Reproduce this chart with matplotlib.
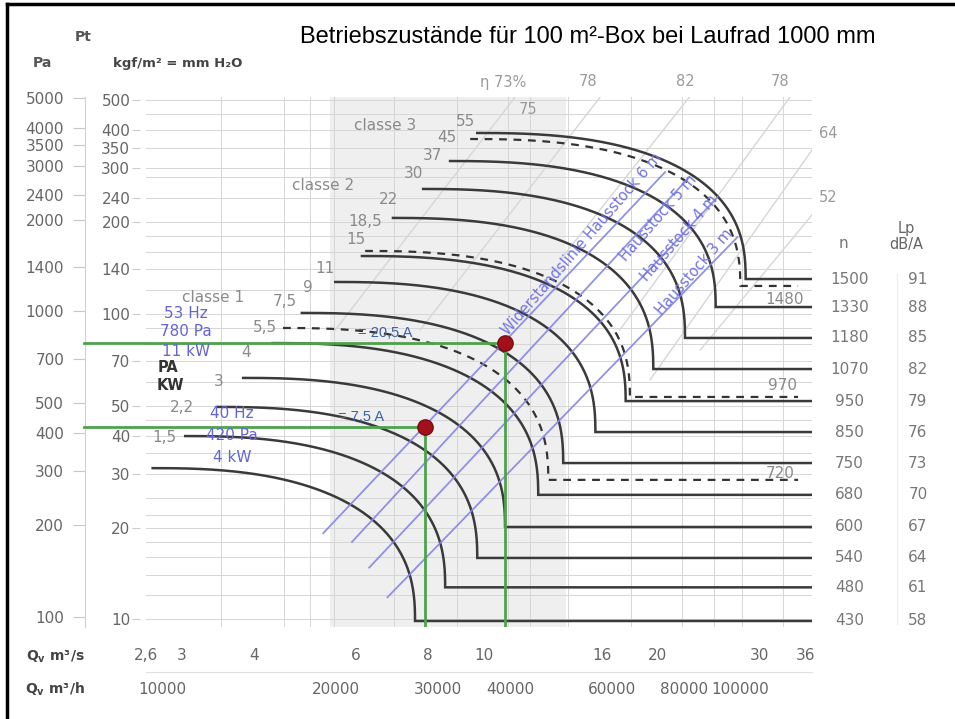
import numpy as np
import matplotlib
matplotlib.use("Agg")
import matplotlib.pyplot as plt
from matplotlib.ticker import FixedLocator, NullFormatter, NullLocator
from matplotlib.lines import Line2D
from matplotlib import transforms

# ---------------- data ----------------
# fan curves (solid): start point (left end) and corner / horizontal level
rpm = [430, 480, 540, 600, 680, 750, 850, 950, 1070, 1180, 1330, 1500]
lp_dba = [58, 61, 64, 67, 70, 73, 76, 79, 82, 85, 88, 91]
curve_q_start = [2.67, 3.04, 3.45, 3.83, 4.31, 4.84, 5.53, 6.15, 6.96, 7.85, 8.74, 9.74]
curve_p_start = [307, 391, 487, 606, 788, 989, 1249, 1519, 2024, 2518, 3108, 3840]
curve_q_end = [7.60, 8.57, 9.74, 10.88, 12.42, 13.72, 15.6, 17.6, 19.65, 22.3, 25.2, 28.4]
curve_p_level = [97, 125, 156, 197, 251, 319, 403, 509, 648, 819, 1034, 1277]

# dashed fan curves
rpm_dashed = [720, 970, 1480]
dash_q_start = [4.49, 6.23, 9.47]
dash_p_start = [883, 1578, 3669]
dash_q_end = [12.93, 17.9, 27.8]
dash_p_level = [281, 525, 1212]

# system (resistance) lines
sys_labels = ["Widerstandslinie Hausstock 6 m", "Hausstock 5 m", "Hausstock 4 m", "Hausstock 3 m"]
sys_q = [(5.27, 20.6), (5.91, 22.7), (6.33, 25.4), (6.81, 27.5)]
sys_p = [(188, 2860), (176, 2756), (145, 2370), (116, 1753)]

# operating points
op_q = [7.9, 10.9]
op_p = [420, 790]
op_current = ["= 7,5 A", "= 20,5 A"]
op_text = [["40 Hz", "420 Pa", "4 kW"], ["53 Hz", "780 Pa", "11 kW"]]

# efficiency lines (faint)
eff_q = [(5.53, 11.33), (7.76, 15.9), (13.56, 22.7), (17.2, 33.9), (19.4, 37.0), (23.7, 37.0)]
eff_p = [(870, 5036), (870, 5036), (1474, 5036), (870, 5036), (597, 3378), (748, 2070)]
eff_labels = ["η 73%", "78", "82", "78", "75", "64", "52"]

# kW labels
kw_labels = ["55", "45", "37", "30", "22", "18,5", "15", "11", "9", "7,5", "5,5", "4", "3", "2,2", "1,5"]
classe_labels = ["classe 3", "classe 2", "classe 1"]

# axes ticks
pa_ticks = [100, 200, 300, 400, 500, 700, 1000, 1400, 2000, 2400, 3000, 3500, 4000, 5000]
kgf_ticks = [10, 20, 30, 40, 50, 70, 100, 140, 200, 240, 300, 350, 400, 500]
kgf_grid = [10, 12, 14, 16, 18, 20, 22, 25, 30, 35, 40, 45, 50, 60, 70, 80, 90, 100,
            120, 140, 160, 180, 200, 240, 280, 300, 350, 400, 450, 500]
q_ticks = [2.6, 3, 4, 6, 8, 10, 16, 20, 30, 36]
q_grid = [2.6, 3, 3.5, 4, 4.5, 5, 5.5, 6, 7, 8, 9, 10, 11, 12, 14, 16, 18, 20, 22, 25, 28, 30, 33, 36]
qh_ticks = [10000, 20000, 30000, 40000, 60000, 80000, 100000]
shade_q = (5.42, 13.9)

# ---------------- layout ----------------
W, H = 955, 719
fig = plt.figure(figsize=(W / 100, H / 100), dpi=100)
fig.patch.set_facecolor("white")
ax = fig.add_axes([146 / W, 1 - 627 / H, (812 - 146) / W, (627 - 97) / H])
ax.set_xscale("log")
ax.set_yscale("log")
XL = (2.6, 37.0)
YL = (92.7, 5036)
ax.set_xlim(*XL)
ax.set_ylim(*YL)

GRAY = "#8a8a8a"
TICKC = "#666666"


def ftext(px, py, s, **kw):
    kw.setdefault("ha", "center")
    kw.setdefault("va", "center")
    return fig.text(px / W, 1 - py / H, s, **kw)


# spines
for s in ["top", "right", "bottom"]:
    ax.spines[s].set_visible(False)
ax.spines["left"].set_position(("axes", -0.0916))
ax.spines["left"].set_color("#d0d0d0")

# y axis (Pa)
ax.yaxis.set_major_locator(FixedLocator(pa_ticks))
ax.set_yticklabels([str(v) for v in pa_ticks])
ax.yaxis.set_minor_locator(FixedLocator([k * 9.81 for k in kgf_grid]))
ax.yaxis.set_minor_formatter(NullFormatter())
ax.tick_params(axis="y", which="major", length=9, color="#c8c8c8", labelcolor=TICKC,
               labelsize=11, pad=6)
ax.tick_params(axis="y", which="minor", length=0)

# x axis (m3/s)
ax.xaxis.set_major_locator(FixedLocator(q_ticks))
ax.set_xticklabels(["2,6", "3", "4", "6", "8", "10", "16", "20", "30", "36"])
ax.xaxis.set_minor_locator(FixedLocator(q_grid))
ax.xaxis.set_minor_formatter(NullFormatter())
ax.tick_params(axis="x", which="major", length=0, labelcolor=TICKC, labelsize=11, pad=15)
ax.tick_params(axis="x", which="minor", length=0)

ax.grid(which="minor", axis="both", color="#d6d6d6", lw=0.7, zorder=0)
ax.set_axisbelow(True)

# secondary y axis (kgf/m2)
sec_y = ax.secondary_yaxis(-0.009, functions=(lambda p: p / 9.81, lambda k: k * 9.81))
sec_y.yaxis.set_major_locator(FixedLocator(kgf_ticks))
sec_y.set_yticklabels([str(v) for v in kgf_ticks])
sec_y.yaxis.set_minor_locator(NullLocator())
sec_y.spines["left"].set_visible(False)
sec_y.tick_params(axis="y", length=6, color="#cccccc", labelcolor=TICKC, labelsize=11, pad=1)

# secondary x axis (m3/h)
sec_x = ax.secondary_xaxis(-0.085, functions=(lambda q: q * 3600, lambda h: h / 3600))
sec_x.xaxis.set_major_locator(FixedLocator(qh_ticks))
sec_x.set_xticklabels([str(v) for v in qh_ticks])
sec_x.xaxis.set_minor_locator(NullLocator())
sec_x.spines["bottom"].set_color("#e2e2e2")
sec_x.tick_params(axis="x", length=0, labelcolor=TICKC, labelsize=11, pad=7)

# shaded area
ax.axvspan(*shade_q, color="#efefef", zorder=0.1, lw=0)

# faint efficiency lines
for qq, pp in zip(eff_q, eff_p):
    ax.plot(qq, pp, color="#d6d6d6", lw=1.0, zorder=1)


def fan_curve(q0, p0, q1, p1, n=2.5, steps=200):
    t = np.linspace(0, np.pi / 2, steps)
    u = np.sin(t) ** (2 / n)
    v = np.cos(t) ** (2 / n)
    lx = np.log10(q0) + (np.log10(q1) - np.log10(q0)) * u
    ly = np.log10(p1) + (np.log10(p0) - np.log10(p1)) * v
    return 10 ** lx, 10 ** ly


for q0, p0, q1, p1 in zip(curve_q_start, curve_p_start, curve_q_end, curve_p_level):
    cx, cy = fan_curve(q0, p0, q1, p1)
    cx = np.append(cx, XL[1])
    cy = np.append(cy, p1)
    ax.plot(cx, cy, color="#3a3a3a", lw=1.8, zorder=3, solid_joinstyle="miter")

for q0, p0, q1, p1 in zip(dash_q_start, dash_p_start, dash_q_end, dash_p_level):
    cx, cy = fan_curve(q0, p0, q1, p1)
    cx = np.append(cx, 35.0)
    cy = np.append(cy, p1)
    ax.plot(cx, cy, color="#333333", lw=1.6, ls=(0, (3.5, 3)), zorder=3)

# system lines
for qq, pp in zip(sys_q, sys_p):
    ax.plot(qq, pp, color="#8585e8", lw=1.3, zorder=4, alpha=0.9)

sys_label_px = [(582, 244), (658, 218), (679, 238), (694, 272)]
for s, (px, py) in zip(sys_labels, sys_label_px):
    ftext(px, py, s, rotation=49, color="#7272e2", fontsize=10.5, rotation_mode="anchor",
          zorder=5)

# green lines + operating points
GREEN = "#4ea24e"
for q, p in zip(op_q, op_p):
    ax.plot([2.03, q], [p, p], color=GREEN, lw=2.0, zorder=5, clip_on=False)
    ax.plot([q, q], [YL[0], p], color=GREEN, lw=2.0, zorder=5)
ax.plot(op_q, op_p, "o", color="#a3101c", mec="#7a0a10", ms=11, zorder=7)

# current labels
ftext(361, 417, op_current[0], color="#3a62a8", fontsize=10.5, family="Liberation Sans")
ftext(385, 333, op_current[1], color="#3a62a8", fontsize=10.5, family="Liberation Sans")

# operating text (blue)
OPC = "#6464d4"
for (px, pys), lines in zip([(232, (414, 436, 458)), (186, (313, 332, 352))], op_text):
    for py, s in zip(pys, lines):
        ftext(px, py, s, color=OPC, fontsize=11)

# rpm & Lp labels on the right
blend = transforms.blended_transform_factory(ax.transAxes, ax.transData)
for r, lp, lv in zip(rpm, lp_dba, curve_p_level):
    ax.text(1.056, lv, str(r), transform=blend, ha="center", va="center", color="#777777",
            fontsize=11)
    ax.text(1.159, lv, str(lp), transform=blend, ha="center", va="center", color="#777777",
            fontsize=11)
ftext(843, 243, "n", color="#777777", fontsize=11)
ftext(906, 229, "Lp", color="#666666", fontsize=10.5)
ftext(906, 245, "dB/A", color="#666666", fontsize=10.5)
ax.plot([1.128, 1.128], [95, 1330], transform=blend, color="#eeeeee", lw=1, clip_on=False)

# dashed rpm labels
dash_lab_px = [(780, 473), (782, 385), (785, 299)]
for r, (px, py) in zip(rpm_dashed, dash_lab_px):
    ftext(px, py, str(r), color=GRAY, fontsize=11)

# kW labels
kw_px = [(465, 122), (447, 138), (432, 155), (413, 174), (388, 200), (365, 221), (356, 239),
         (325, 268), (308, 288), (285, 301), (265, 328), (246, 353), (219, 382), (182, 408),
         (164, 438)]
for s, (px, py) in zip(kw_labels, kw_px):
    ftext(px, py, s, color=GRAY, fontsize=11)

for s, (px, py) in zip(classe_labels, [(385, 125), (323, 186), (213, 297)]):
    ftext(px, py, s, color=GRAY, fontsize=11)

ftext(168, 368, "PA", color="#333333", fontsize=10.5, weight="bold")
ftext(170, 385, "KW", color="#333333", fontsize=10.5, weight="bold")

# efficiency labels
eff_px = [(503, 82), (588, 82), (685, 82), (780, 82), (528, 110), (828, 133), (828, 198)]
for s, (px, py) in zip(eff_labels, eff_px):
    ftext(px, py, s, color="#9a9a9a", fontsize=10.5)

# headers
ftext(83, 37, "Pt", color="#555555", fontsize=10, weight="bold")
ftext(42, 63, "Pa", color="#555555", fontsize=10, weight="bold")
ftext(178, 63, "kgf/m² = mm H₂O", color="#444444", fontsize=9.5, weight="bold")
ftext(55, 657, r"Q$_\mathregular{v}$ m³/s", color="#444444", fontsize=10, weight="bold")
ftext(55, 689, r"Q$_\mathregular{v}$ m³/h", color="#444444", fontsize=10, weight="bold")

ftext(588, 37, "Betriebszustände für 100 m²-Box bei Laufrad 1000 mm", color="black",
      fontsize=17, family="Liberation Sans")

# outer frame (left & top visible)
fig.add_artist(Line2D([7 / W, 7 / W], [0, 1 - 4 / H], color="black", lw=2.5,
                      transform=fig.transFigure))
fig.add_artist(Line2D([7 / W, 1], [1 - 4 / H, 1 - 4 / H], color="black", lw=2.5,
                      transform=fig.transFigure))

fig.savefig("out.png", dpi=100, facecolor="white")
